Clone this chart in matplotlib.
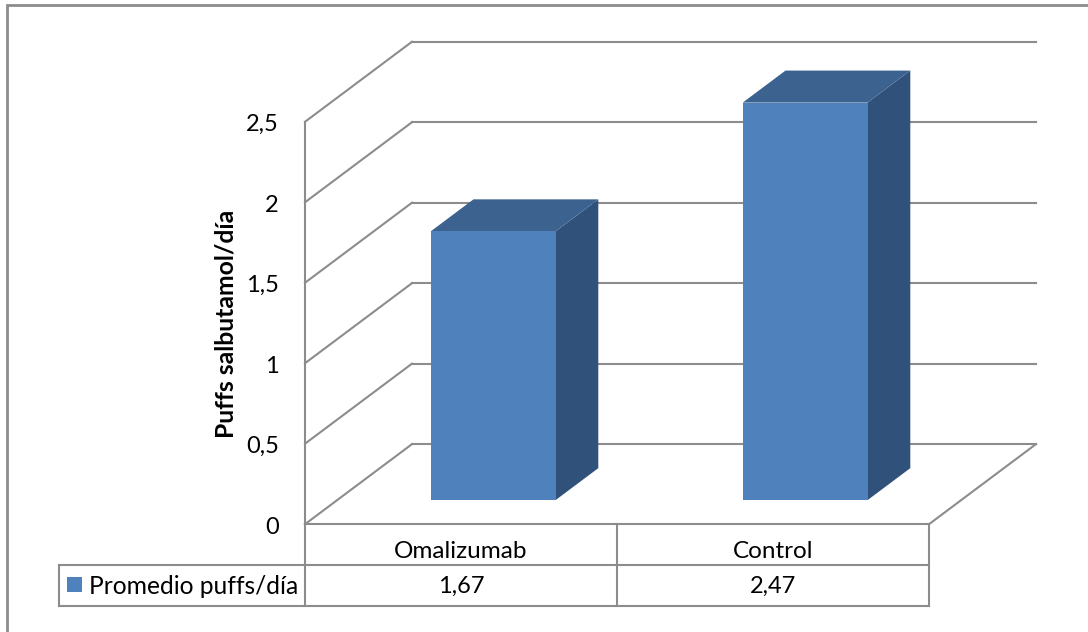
import numpy as np
import matplotlib
matplotlib.use('Agg')
import matplotlib.pyplot as plt
from matplotlib.patches import Polygon, Rectangle

plt.rcParams['font.family'] = ['Lato', 'DejaVu Sans']

categories = ['Omalizumab', 'Control']
values = [1.67, 2.47]
value_labels = ['1,67', '2,47']
y_ticks = [0, 0.5, 1, 1.5, 2, 2.5]
y_tick_labels = ['0', '0,5', '1', '1,5', '2', '2,5']
series_name = 'Promedio puffs/día'
y_title = 'Puffs salbutamol/día'

W, H = 1088, 632
GRID = '#8c8c8c'
FRONT = '#4f81bd'
TOP = '#3c6290'
SIDE = '#30527a'

fig = plt.figure(figsize=(W / 100, H / 100), dpi=100)
# axes box is the front plane of the 3d box, x in categories, y in values
left, right, bottom, top = 305, 929, 524.2, 121.8
ax = fig.add_axes([left / W, 1 - bottom / H, (right - left) / W, (bottom - top) / H])
ax.set_xlim(0, len(categories))
ax.set_ylim(0, 2.5)
ax.axis('off')

# full depth of the box, in data units
DX = 107 / 312
DY = 80 / (402 / 2.5)
PX = 2.5 / 402  # one pixel in value units


def pt(x, y, d=0.0):
    # d is depth, 0 = front plane, 1 = back wall
    return (x + d * DX, y + d * DY)


def line(p, q, lw=1.5, color=GRID):
    ax.plot([p[0], q[0]], [p[1], q[1]], color=color, lw=lw, clip_on=False,
            solid_capstyle='projecting', zorder=1)


# outer frame of the chart area
fig.add_artist(Rectangle((7 / W, -0.05), 1.2, 1 - 5 / H + 0.05, transform=fig.transFigure,
                         fill=False, ec=GRID, lw=2))

# walls, no vertical edge on the back wall
for t in y_ticks:
    line(pt(0, t, 0), pt(0, t, 1))
    line(pt(0, t, 1), pt(2, t, 1))
line(pt(0, 0, 0), pt(0, 2.5, 0))
line(pt(0, 0, 0), pt(2, 0, 0))
line(pt(2, 0, 0), pt(2, 0, 1))

# bars
bar_w = 0.4
d0, d1 = 0.3, 0.7
for i, v in enumerate(values):
    x0 = i + 0.5 - bar_w / 2
    x1 = x0 + bar_w
    ax.add_patch(Polygon([pt(x1, 0, d0), pt(x1, 0, d1), pt(x1, v, d1), pt(x1, v, d0)],
                         fc=SIDE, ec='none', clip_on=False, zorder=3))
    ax.add_patch(Polygon([pt(x0, v, d0), pt(x1, v, d0), pt(x1, v, d1), pt(x0, v, d1)],
                         fc=TOP, ec='none', clip_on=False, zorder=3))
    ax.add_patch(Polygon([pt(x0, 0, d0), pt(x1, 0, d0), pt(x1, v, d0), pt(x0, v, d0)],
                         fc=FRONT, ec='none', clip_on=False, zorder=4))

# y tick labels and title
for t, lab in zip(y_ticks, y_tick_labels):
    ax.text(-26 / 312, t - 3 * PX, lab, ha='right', va='center', fontsize=17, color='black', clip_on=False)
ax.text(-79 / 312, 1.244, y_title, rotation=90, ha='center', va='center', fontsize=17.8,
        fontweight='bold', clip_on=False)

# data table under the axes
row = 40.8 * PX
tab_left = -(305 - 59) / 312
line((0, 0), (0, -2 * row))
for x in range(1, len(categories) + 1):
    line((x, 0), (x, -2 * row))
line((tab_left, -row), (2, -row))
line((tab_left, -2 * row), (2, -2 * row))
line((tab_left, -row), (tab_left, -2 * row))
for i, (c, lab) in enumerate(zip(categories, value_labels)):
    ax.text(i + 0.5, -0.5 * row - 7 * PX, c, ha='center', va='center', fontsize=17.5, clip_on=False)
    ax.text(i + 0.5, -1.5 * row - 1 * PX, lab, ha='center', va='center', fontsize=17, clip_on=False)

# legend key in the table
ax.add_patch(Rectangle((-(305 - 67) / 312, -1.5 * row - 7 * PX), 15 / 312, 15 * PX,
                       fc=FRONT, ec='none', clip_on=False))
ax.text(-(305 - 89) / 312, -1.5 * row - 1 * PX, series_name, ha='left', va='center', fontsize=17.7, clip_on=False)

fig.savefig('out.png', dpi=100)
